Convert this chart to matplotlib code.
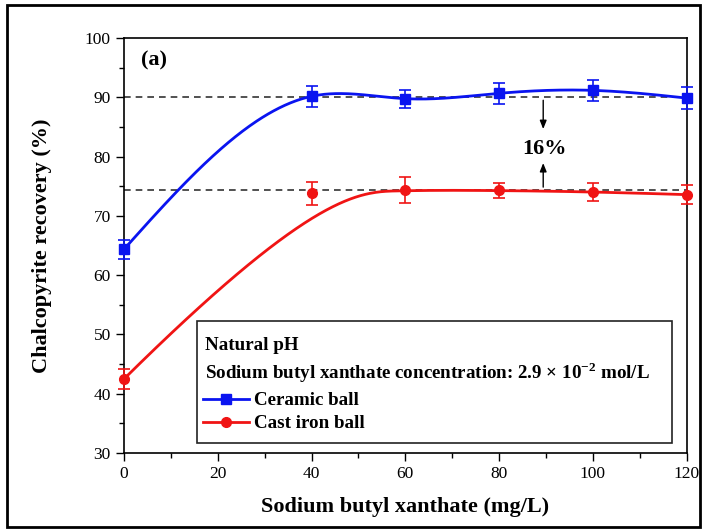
import matplotlib
matplotlib.use('Agg')
import matplotlib.pyplot as plt
from matplotlib.lines import Line2D
from matplotlib.patches import Rectangle
import numpy as np

plt.rcParams['font.family'] = ['Liberation Serif', 'DejaVu Serif']
plt.rcParams['mathtext.fontset'] = 'custom'
plt.rcParams['mathtext.rm'] = 'Liberation Serif'
plt.rcParams['mathtext.bf'] = 'Liberation Serif:bold'

# Data
dosage = [0, 40, 60, 80, 100, 120]
ceramic = [64.4, 90.2, 89.8, 90.7, 91.2, 89.9]
ceramic_err = [1.6, 1.8, 1.5, 1.8, 1.8, 1.8]
cast_iron = [42.5, 73.8, 74.4, 74.3, 74.1, 73.6]
cast_iron_err = [1.7, 1.9, 2.2, 1.2, 1.5, 1.6]
ref_high = 90.0
ref_low = 74.4

BLUE = '#0a14f0'
RED = '#f01414'


def natural_spline(x, y, xs):
    x = np.asarray(x, float)
    y = np.asarray(y, float)
    n = len(x)
    h = np.diff(x)
    A = np.zeros((n, n))
    rhs = np.zeros(n)
    A[0, 0] = 1
    A[-1, -1] = 1
    for i in range(1, n - 1):
        A[i, i - 1] = h[i - 1]
        A[i, i] = 2 * (h[i - 1] + h[i])
        A[i, i + 1] = h[i]
        rhs[i] = 6 * ((y[i + 1] - y[i]) / h[i] - (y[i] - y[i - 1]) / h[i - 1])
    M = np.linalg.solve(A, rhs)
    idx = np.clip(np.searchsorted(x, xs) - 1, 0, n - 2)
    x0, x1 = x[idx], x[idx + 1]
    hh = x1 - x0
    return (M[idx] * (x1 - xs) ** 3 / (6 * hh) + M[idx + 1] * (xs - x0) ** 3 / (6 * hh)
            + (y[idx] / hh - M[idx] * hh / 6) * (x1 - xs)
            + (y[idx + 1] / hh - M[idx + 1] * hh / 6) * (xs - x0))


def bspline(px, py, n=300):
    px = np.asarray(px, float)
    py = np.asarray(py, float)
    k = 3
    m = len(px)
    knots = np.r_[[0] * (k + 1), np.linspace(0, 1, m - k + 1)[1:-1], [1] * (k + 1)]
    t = np.linspace(0, 1, n)
    # Cox-de Boor
    B = np.zeros((n, len(knots) - 1))
    for j in range(len(knots) - 1):
        B[:, j] = (t >= knots[j]) & (t < knots[j + 1])
    B[-1, m - 1] = 1
    for d in range(1, k + 1):
        Bn = np.zeros((n, len(knots) - 1 - d))
        for j in range(len(knots) - 1 - d):
            a = 0
            if knots[j + d] != knots[j]:
                a = (t - knots[j]) / (knots[j + d] - knots[j]) * B[:, j]
            b = 0
            if knots[j + d + 1] != knots[j + 1]:
                b = (knots[j + d + 1] - t) / (knots[j + d + 1] - knots[j + 1]) * B[:, j + 1]
            Bn[:, j] = a + b
        B = Bn
    return B @ px, B @ py


fig = plt.figure(figsize=(7.05, 5.31), dpi=100)
ax = fig.add_axes([0.176, 0.147, 0.798, 0.781])

# reference lines
ax.plot([0, 120], [ref_high, ref_high], color='#333333', lw=1.2, ls=(0, (4, 3)), zorder=1)
ax.plot([0, 120], [ref_low, ref_low], color='#333333', lw=1.2, ls=(0, (4, 3)), zorder=1)

# smooth curves
xs = np.linspace(0, 120, 400)
ax.plot(xs, natural_spline(dosage, ceramic, xs), color=BLUE, lw=2, zorder=3)
bx, by = bspline(dosage, cast_iron)
ax.plot(bx, by, color=RED, lw=2, zorder=3)

ax.errorbar(dosage, ceramic, yerr=ceramic_err, fmt='s', color=BLUE, ms=7,
            capsize=4, elinewidth=1.2, capthick=1.2, zorder=4, clip_on=False)
ax.errorbar(dosage, cast_iron, yerr=cast_iron_err, fmt='o', color=RED, ms=7,
            capsize=4, elinewidth=1.2, capthick=1.2, zorder=4, clip_on=False)

# 16% annotation
arrow_x = 89.4
ax.annotate('', xy=(arrow_x, 84.2), xytext=(arrow_x, ref_high),
            arrowprops=dict(arrowstyle='-|>,head_length=0.5,head_width=0.2', color='black', lw=1))
ax.annotate('', xy=(arrow_x, 79.4), xytext=(arrow_x, ref_low),
            arrowprops=dict(arrowstyle='-|>,head_length=0.5,head_width=0.2', color='black', lw=1))
ax.text(arrow_x + 0.3, 81.3, '16%', ha='center', va='center', fontsize=16, fontweight='bold')

ax.text(0.03, 0.97, '(a)', transform=ax.transAxes, ha='left', va='top',
        fontsize=16, fontweight='bold')

# legend box
ax.add_patch(Rectangle((15.6, 31.7), 101.2, 20.5, fill=False, edgecolor='#222222', lw=1.2, zorder=5))
ax.text(17.3, 48.2, 'Natural pH', fontsize=13.7, fontweight='bold', va='center', zorder=6)
ax.text(17.3, 43.6, r'Sodium butyl xanthate concentration: 2.9 × 10$^{\mathbf{-2}}$ mol/L',
        fontsize=13.7, fontweight='bold', va='center', zorder=6)
handles = [Line2D([], [], color=BLUE, marker='s', ms=7, lw=2),
           Line2D([], [], color=RED, marker='o', ms=7, lw=2)]
ax.legend(handles, ['Ceramic ball', 'Cast iron ball'], loc='center left',
          bbox_to_anchor=((203 - 124) / 563, 0.098), frameon=False, handlelength=2.4,
          handletextpad=0.26, labelspacing=0.3, borderaxespad=0, borderpad=0,
          prop={'size': 13.7, 'weight': 'bold'})

ax.set_xlim(0, 120)
ax.set_ylim(30, 100)
ax.set_xticks([0, 20, 40, 60, 80, 100, 120])
ax.set_xticks(np.arange(10, 120, 20), minor=True)
ax.set_yticks(np.arange(30, 101, 10))
ax.set_yticks(np.arange(35, 100, 10), minor=True)
ax.tick_params(which='major', direction='out', length=6, width=1, labelsize=12.5)
ax.tick_params(which='minor', direction='out', length=3.5, width=1)
for s in ax.spines.values():
    s.set_linewidth(1.2)

ax.set_xlabel('Sodium butyl xanthate (mg/L)', fontsize=16, fontweight='bold', labelpad=11)
ax.set_ylabel('Chalcopyrite recovery (%)', fontsize=16, fontweight='bold', labelpad=24)

# outer frame of the figure
fig.add_artist(Rectangle((7 / 705, 4 / 531), 693 / 705, 522 / 531, transform=fig.transFigure,
                         fill=False, edgecolor='black', lw=2))

fig.savefig('out.png', dpi=100, facecolor='white')
